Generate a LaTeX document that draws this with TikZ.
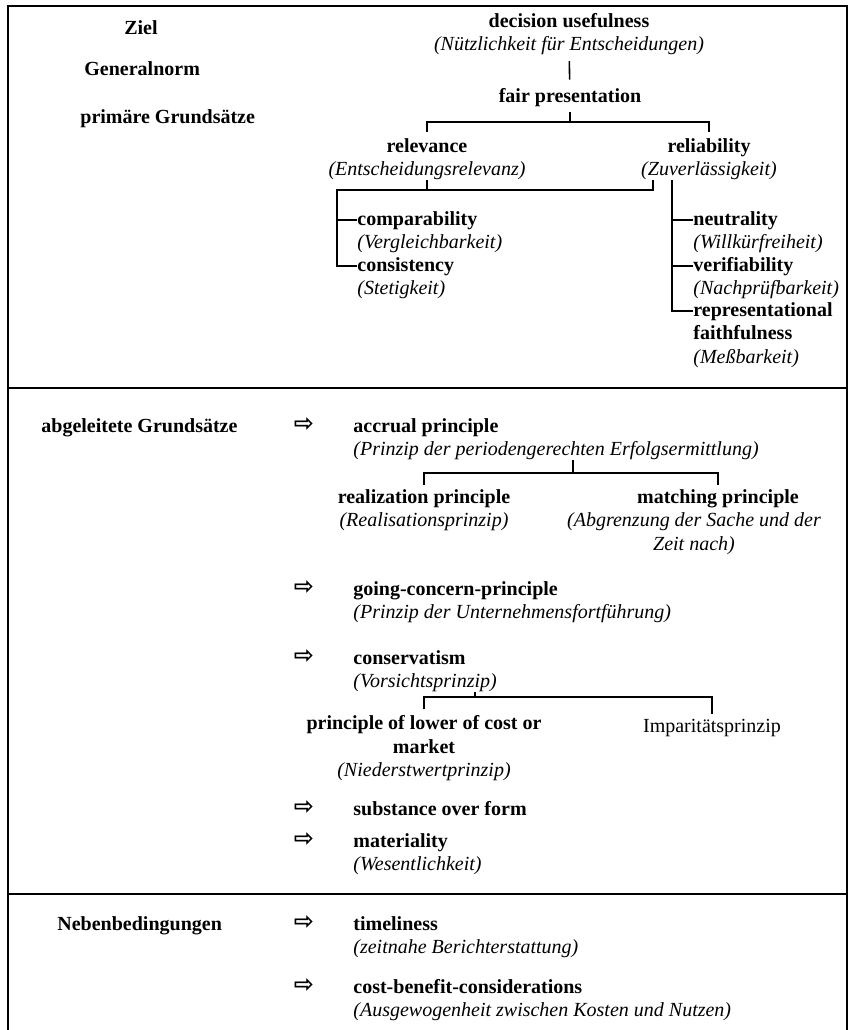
\documentclass[tikz,border=0pt]{standalone}
\usepackage{fontspec}
\setmainfont{Liberation Serif}
\newfontfamily\symfont{DejaVu Sans}
\usetikzlibrary{positioning}

\begin{document}
\begin{tikzpicture}[
    x=0.5pt, y=-0.5pt,
    node distance=2.5pt,
    tl/.style={font=\bfseries, inner sep=0pt, text height=7pt, text depth=2pt},
    gl/.style={font=\itshape, inner sep=0pt, text height=7pt, text depth=2pt},
    tl2/.style={font=\bfseries, inner sep=0pt, align=center},
    gl2/.style={font=\itshape, inner sep=0pt, align=center},
    rm/.style={inner sep=0pt, text height=7pt, text depth=2pt},
    pfeil/.style={font=\symfont\bfseries\fontsize{12}{12}\selectfont, inner sep=0pt},
    ast/.style={line width=0.8pt},
    rahmen/.style={line width=1pt}
]
  \useasboundingbox (0,0) rectangle (849,1030);

  % 外框和分隔线
  \draw[rahmen] (8,1030) -- (8,6) -- (847,6) -- (847,1030);
  \draw[rahmen] (8,388) -- (847,388);
  \draw[rahmen] (8,894) -- (847,894);

  % 左列
  \node[tl] (ziel) at (141,29) {Ziel};
  \node[tl, anchor=west] (gnorm) at (84,70) {Generalnorm};
  \node[tl, anchor=west] (prim) at (80,118) {primäre Grundsätze};
  \node[tl, anchor=west] (abg) at (41,427) {abgeleitete Grundsätze};
  \node[tl, anchor=west] (neben) at (57,925) {Nebenbedingungen};

  % 目标与原则
  \node[tl] (du) at (569,22) {decision usefulness};
  \node[gl, below=of du] (dug) {(Nützlichkeit für Entscheidungen)};
  \node[tl] (fp) at (570,97) {fair presentation};
  \node[tl] (rel) at (427,147) {relevance};
  \node[gl, below=of rel] (relg) {(Entscheidungsrelevanz)};
  \node[tl] (rbl) at (709,147) {reliability};
  \node[gl, below=of rbl] (rblg) {(Zuverlässigkeit)};

  \node[tl, anchor=west] (comp) at (357,220) {comparability};
  \node[gl, below=of comp.south west, anchor=north west] (compg) {(Vergleichbarkeit)};
  \node[tl, anchor=west] (cons) at (357,266) {consistency};
  \node[gl, below=of cons.south west, anchor=north west] (consg) {(Stetigkeit)};

  \node[tl, anchor=west] (neut) at (693,220) {neutrality};
  \node[gl, below=of neut.south west, anchor=north west] (neutg) {(Willkürfreiheit)};
  \node[tl, anchor=west] (veri) at (693,266) {verifiability};
  \node[gl, below=of veri.south west, anchor=north west] (verig) {(Nachprüfbarkeit)};
  \node[tl, anchor=west] (repr) at (693,311) {representational};
  \node[tl, below=of repr.south west, anchor=north west] (faith) {faithfulness};
  \node[gl, below=of faith.south west, anchor=north west] (reprg) {(Meßbarkeit)};

  % 连线
  \coordinate (fpj) at (570,122);
  \coordinate (lk) at (337,190);
  \coordinate (rk) at ([xshift=6pt]rblg.south west);
  \coordinate (rv) at ([xshift=15.5pt]rblg.south west);
  \draw[ast, shorten <=3pt, shorten >=4pt] (dug) -- (fp);
  \draw[ast, shorten <=3pt] (fp) -- (fpj);
  \draw[ast, shorten <=3pt, shorten >=3pt] (rel) |- (fpj) -| (rbl);
  \draw[ast] (relg) -- (relg |- lk);
  \draw[ast] (cons) -| (lk) -- (lk -| rk) -- (rk);
  \draw[ast] (comp) -- (comp -| lk);
  \draw[ast] (rv) |- (repr);
  \draw[ast] (neut) -- (neut -| rv);
  \draw[ast] (veri) -- (veri -| rv);

  % 派生原则
  \node[pfeil] (p1) at (304,425) {⇨};
  \node[tl, anchor=west] (acc) at (353,427) {accrual principle};
  \node[gl, below=of acc.south west, anchor=north west] (accg) {(Prinzip der periodengerechten Erfolgsermittlung)};
  \node[tl] (realz) at (424,498) {realization principle};
  \node[gl, below=of realz] (realzg) {(Realisationsprinzip)};
  \node[tl] (match) at (718,498) {matching principle};
  \node[gl2, below=of match, xshift=-12pt] (matchg) {(Abgrenzung der Sache und der\\Zeit nach)};
  \coordinate (accj) at (573,473);
  \draw[ast] (accg.south -| accj) -- (accj);
  \draw[ast, shorten <=2pt, shorten >=2pt] (realz) |- (accj) -| (match);

  \node[pfeil] (p2) at (304,588) {⇨};
  \node[tl, anchor=west] (going) at (353,590) {going-concern-principle};
  \node[gl, below=of going.south west, anchor=north west] (goingg) {(Prinzip der Unternehmensfortführung)};

  \node[pfeil] (p3) at (304,657) {⇨};
  \node[tl, anchor=west] (kons) at (353,659) {conservatism};
  \node[gl, below=of kons.south west, anchor=north west] (konsg) {(Vorsichtsprinzip)};
  \node[tl2] (lcm) at (424,735) {principle of lower of cost or\\market};
  \node[gl, below=4pt of lcm] (lcmg) {(Niederstwertprinzip)};
  \node[rm] (imp) at (712,727) {Imparitätsprinzip};
  \coordinate (konj) at (475,697);
  \draw[ast] (konsg.south -| konj) -- (konj);
  \draw[ast, shorten <=3pt, shorten >=2pt] (lcm) |- (konj) -| (imp);

  \node[pfeil] (p4) at (304,808) {⇨};
  \node[tl, anchor=west] (subst) at (353,810) {substance over form};
  \node[pfeil] (p5) at (304,840) {⇨};
  \node[tl, anchor=west] (mat) at (353,842) {materiality};
  \node[gl, below=of mat.south west, anchor=north west] (matg) {(Wesentlichkeit)};

  % 附加条件
  \node[pfeil] (p6) at (304,923) {⇨};
  \node[tl, anchor=west] (time) at (353,925) {timeliness};
  \node[gl, below=of time.south west, anchor=north west] (timeg) {(zeitnahe Berichterstattung)};
  \node[pfeil] (p7) at (304,986) {⇨};
  \node[tl, anchor=west] (cbc) at (353,988) {cost-benefit-considerations};
  \node[gl, below=of cbc.south west, anchor=north west] (cbcg) {(Ausgewogenheit zwischen Kosten und Nutzen)};
\end{tikzpicture}
\end{document}
